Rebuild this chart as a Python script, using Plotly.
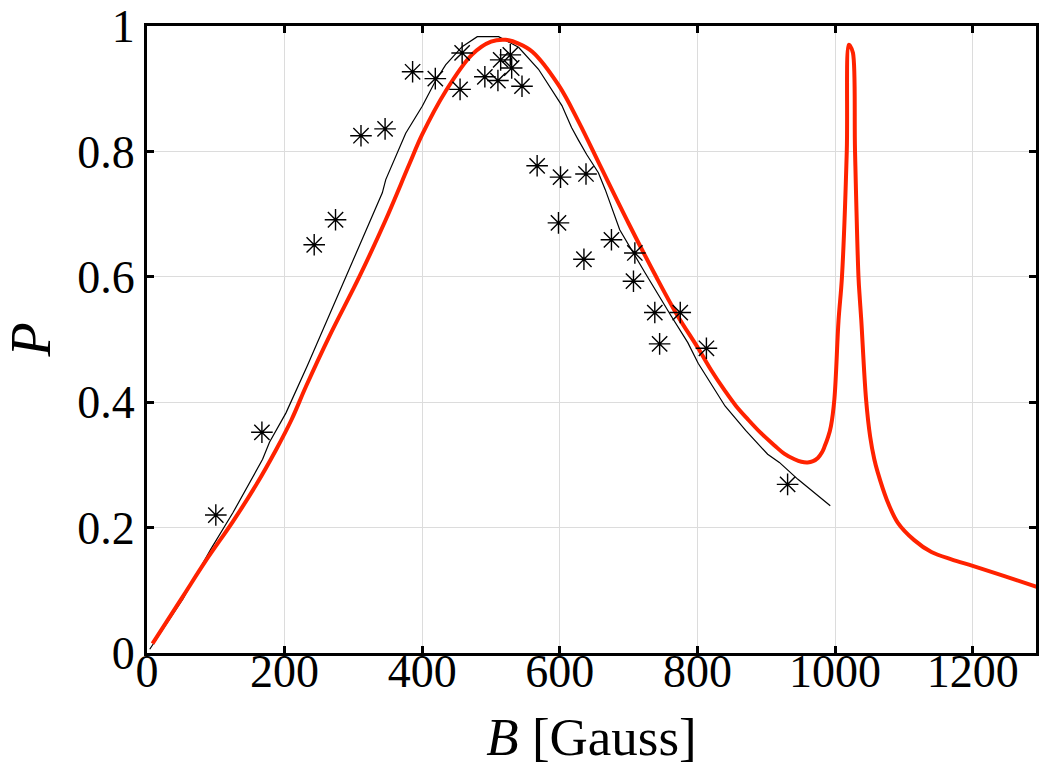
import plotly.graph_objects as go

# Measured data points (asterisks)
data_B = [100, 167, 243, 274, 311, 346, 386, 419, 455, 458, 491, 510, 514, 528, 530, 545,
          567, 601, 598, 638, 635, 675, 709, 707, 738, 745, 775, 813, 931]
data_P = [0.220, 0.352, 0.651, 0.691, 0.825, 0.836, 0.927, 0.916, 0.899, 0.957, 0.919, 0.913,
          0.946, 0.954, 0.933, 0.904, 0.777, 0.759, 0.686, 0.764, 0.628, 0.659, 0.638, 0.593,
          0.543, 0.493, 0.543, 0.486, 0.269]

# Thin black curve
black_B = [4, 30, 52, 74, 93, 125, 149, 168, 178, 202, 233, 279, 289, 318, 342, 347, 366, 376,
           400, 419, 434, 458, 480, 511, 540, 569, 603, 617, 627, 639, 656, 666, 687, 709, 724,
           762, 786, 801, 816, 840, 870, 902, 919, 946, 993]
black_P = [0.006, 0.050, 0.086, 0.129, 0.166, 0.224, 0.272, 0.309, 0.336, 0.383, 0.458, 0.575,
           0.601, 0.675, 0.734, 0.755, 0.803, 0.829, 0.872, 0.912, 0.938, 0.967, 0.983, 0.983,
           0.966, 0.931, 0.873, 0.838, 0.818, 0.795, 0.766, 0.739, 0.675, 0.633, 0.606, 0.537,
           0.495, 0.462, 0.436, 0.394, 0.355, 0.317, 0.304, 0.277, 0.235]

# Thick red curve
red_B = [8, 52, 86, 125, 158, 188, 210, 231, 265, 309, 347, 381, 400, 434, 472, 500, 521, 540,
         560, 598, 627, 660, 700, 740, 770, 801, 820, 840, 856, 873, 892, 912, 926, 941, 951,
         960, 968, 975, 981, 985, 990, 994, 999, 1005, 1010, 1017, 1020, 1022, 1026, 1029,
         1034, 1036, 1038, 1045, 1051, 1057, 1062, 1075, 1091, 1115, 1140, 1170, 1200, 1245,
         1292, 1300]
red_P = [0.015, 0.090, 0.148, 0.210, 0.267, 0.325, 0.372, 0.425, 0.505, 0.601, 0.691, 0.779,
         0.827, 0.896, 0.954, 0.975, 0.978, 0.972, 0.959, 0.906, 0.848, 0.774, 0.685, 0.600,
         0.540, 0.486, 0.451, 0.418, 0.394, 0.373, 0.351, 0.331, 0.318, 0.309, 0.305, 0.304,
         0.306, 0.311, 0.320, 0.330, 0.345, 0.362, 0.405, 0.530, 0.600, 0.800, 0.970, 0.968,
         0.957, 0.800, 0.600, 0.564, 0.532, 0.405, 0.345, 0.309, 0.288, 0.245, 0.208, 0.180,
         0.161, 0.149, 0.139, 0.123, 0.106, 0.103]

x_ticks = [0, 200, 400, 600, 800, 1000, 1200]
x_ticktext = ["0", "200", "400", "600", "800", "1000", "1200"]
y_ticks = [0, 0.2, 0.4, 0.6, 0.8, 1]
y_ticktext = ["0", "0.2", "0.4", "0.6", "0.8", "1"]

FONT = "Liberation Serif, Times New Roman, serif"

fig = go.Figure()
fig.add_trace(go.Scatter(x=black_B, y=black_P, mode="lines",
                         line=dict(color="black", width=1.2), showlegend=False))
fig.add_trace(go.Scatter(x=red_B, y=red_P, mode="lines",
                         line=dict(color="#ff2200", width=4, shape="spline", smoothing=1.0),
                         showlegend=False))
fig.add_trace(go.Scatter(x=data_B, y=data_P, mode="markers",
                         marker=dict(symbol="asterisk-open", size=18, color="black",
                                     line=dict(color="black", width=1.4)),
                         showlegend=False))

axis_common = dict(
    showline=True, linecolor="black", linewidth=3, mirror="ticks",
    ticks="inside", ticklen=7, tickwidth=3, tickcolor="black",
    showgrid=True, gridcolor="#dcdcdc", gridwidth=1, zeroline=False,
    tickfont=dict(family=FONT, size=46, color="black"),
)

fig.update_layout(
    width=1039, height=770,
    margin=dict(l=147, r=0, t=26, b=117),
    paper_bgcolor="white", plot_bgcolor="white",
    font=dict(family=FONT, color="black"),
    xaxis=dict(range=[0, 1292], tickvals=x_ticks, ticktext=x_ticktext,
               ticklabelstandoff=-24,
               title=dict(text="<i>B</i> [Gauss]", font=dict(family=FONT, size=53), standoff=22),
               **axis_common),
    yaxis=dict(range=[0, 1], tickvals=y_ticks, ticktext=y_ticktext,
               title=dict(text="<i>P</i>", font=dict(family=FONT, size=56), standoff=16),
               **axis_common),
)

fig.write_html("out.html")
